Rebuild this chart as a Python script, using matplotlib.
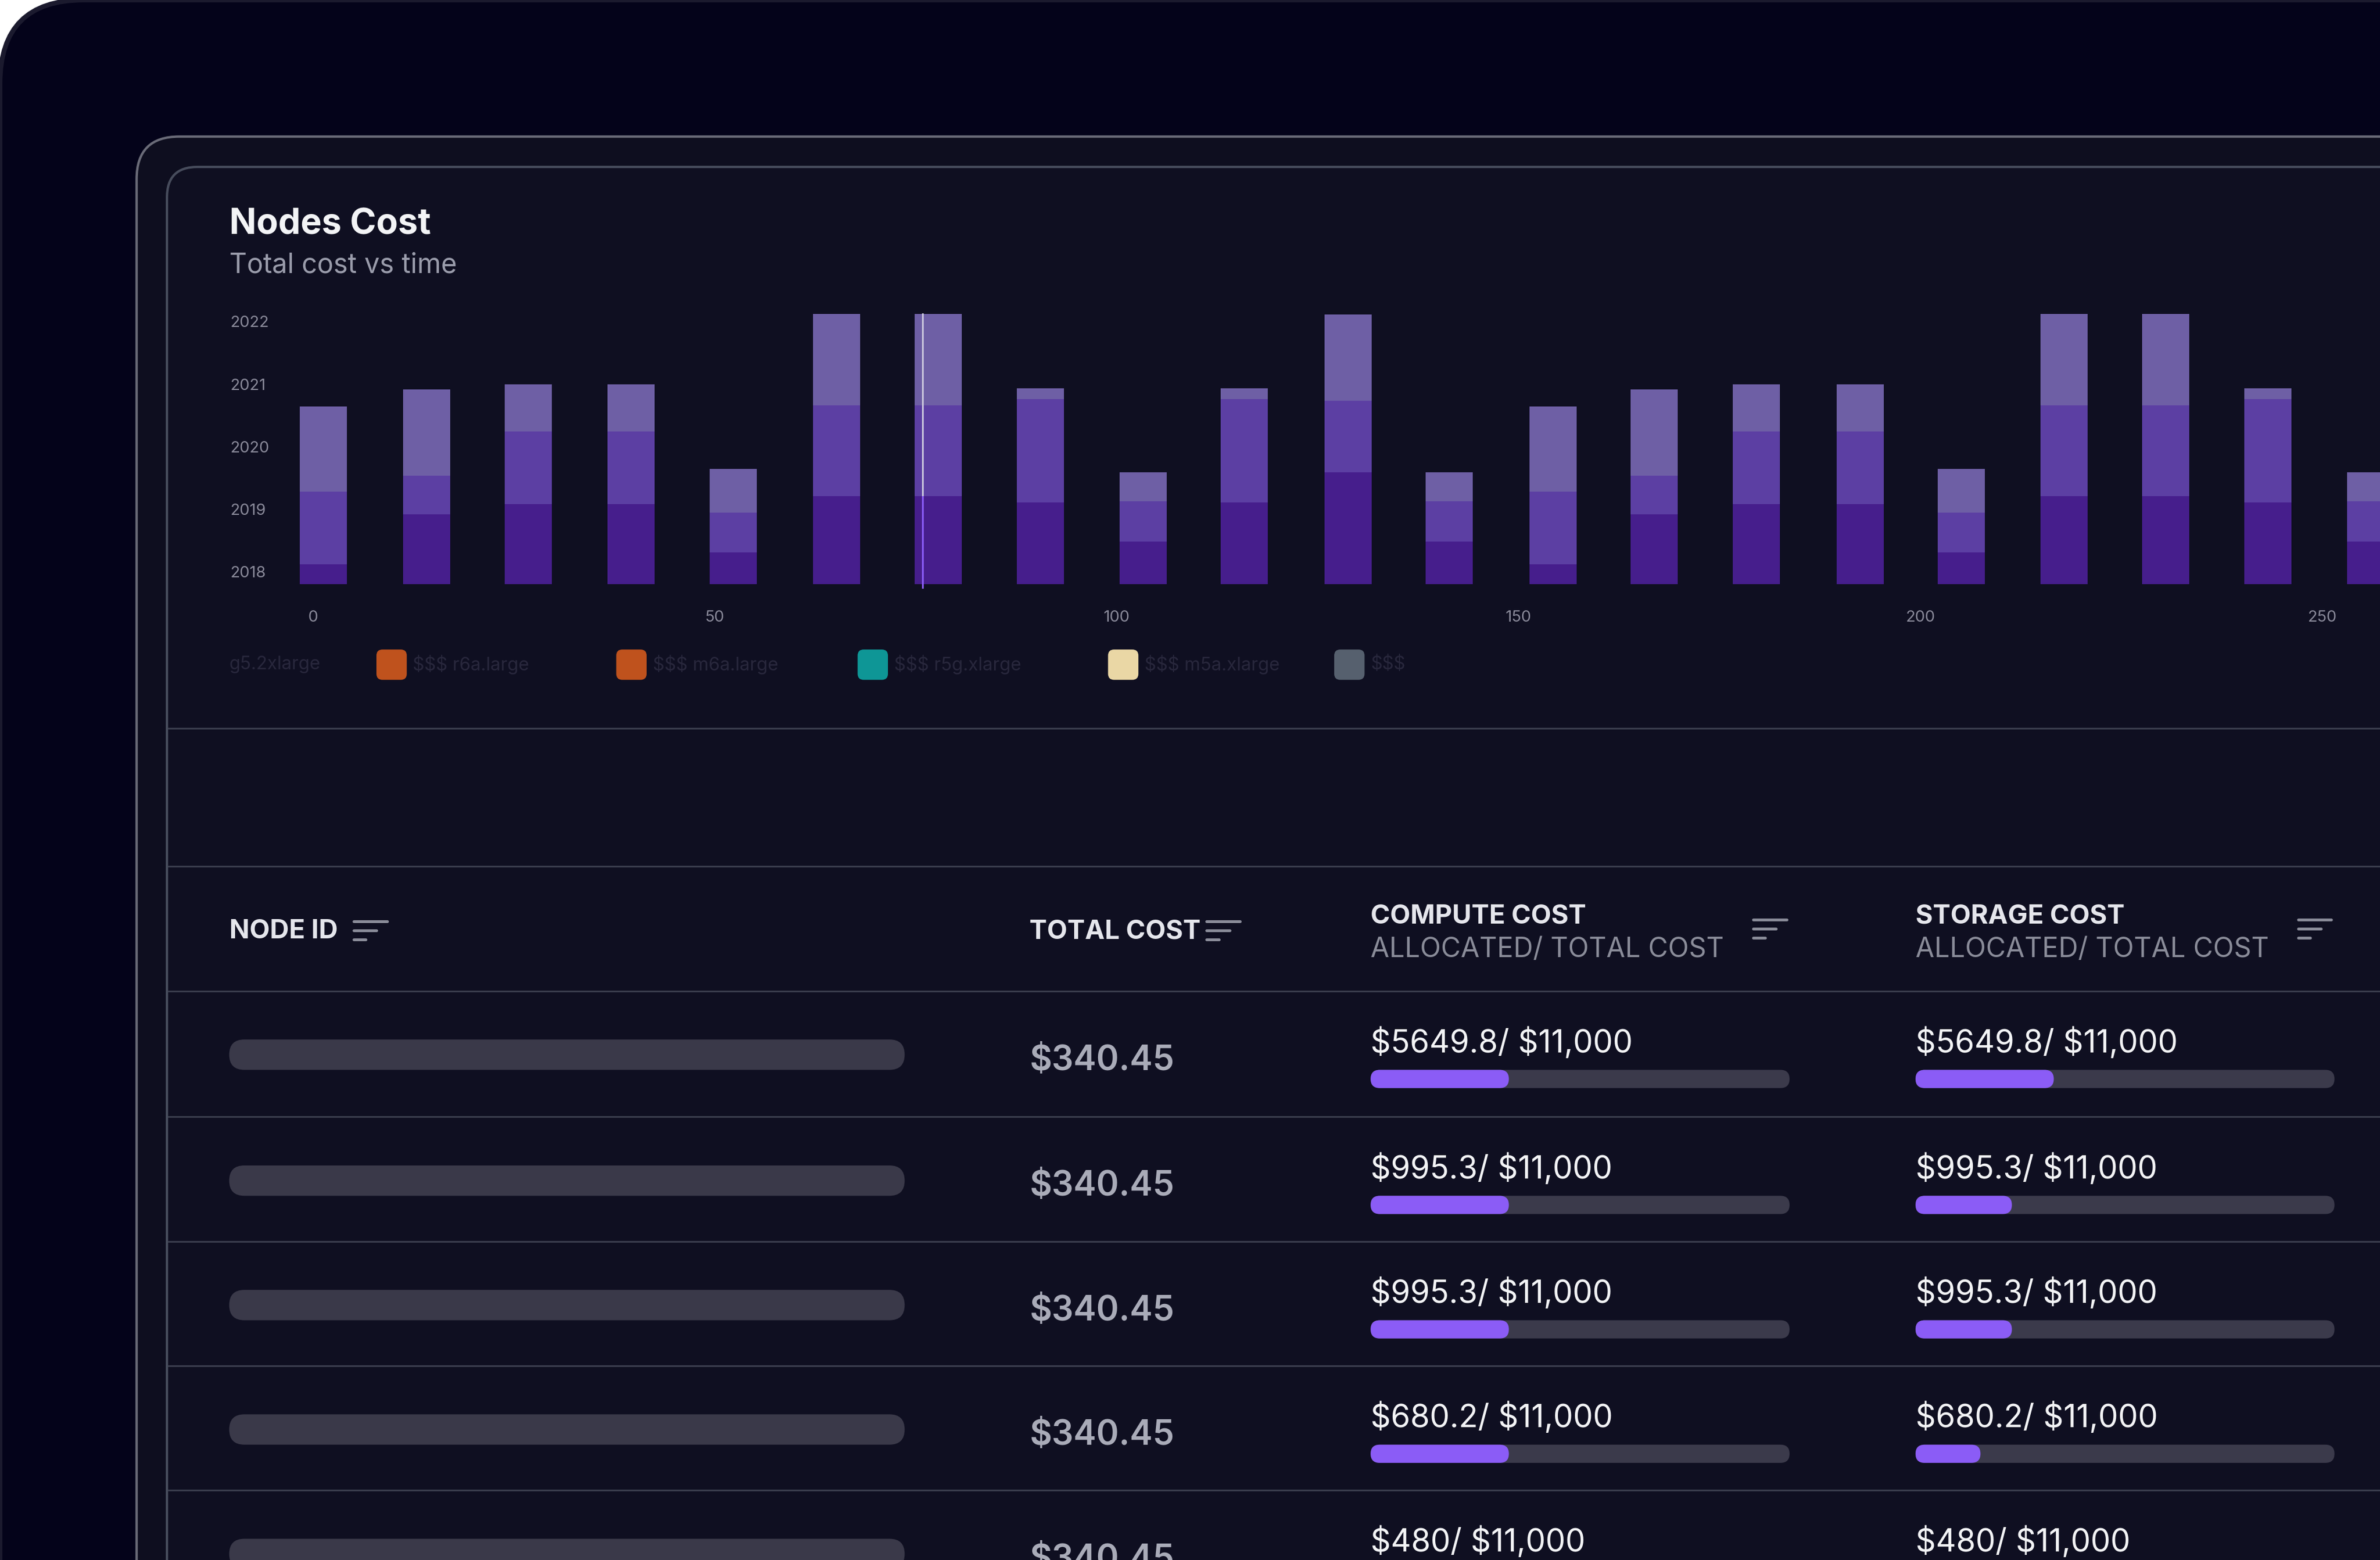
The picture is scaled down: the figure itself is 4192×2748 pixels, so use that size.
import matplotlib
matplotlib.use("Agg")
import matplotlib.pyplot as plt
from matplotlib.patches import FancyBboxPatch
import numpy as np

plt.rcParams['font.family'] = ['Inter', 'DejaVu Sans']
plt.rcParams['text.parse_math'] = False

# Chart data (bar heights in "year" units above the 2018 baseline)
bar_x = [1.3, 14.2, 26.8, 39.6, 52.3, 65.2, 77.8, 90.5, 103.3, 115.9, 128.8,
         141.4, 154.3, 166.9, 179.6, 192.5, 205.1, 217.9, 230.5, 243.2, 256.0]
seg_low = [0.32, 1.12, 1.28, 1.28, 0.51, 1.41, 1.41, 1.31, 0.68, 1.31, 1.79,
           0.68, 0.32, 1.12, 1.28, 1.28, 0.51, 1.41, 1.41, 1.31, 0.68]
seg_mid = [1.16, 0.61, 1.16, 1.16, 0.63, 1.45, 1.45, 1.65, 0.65, 1.65, 1.14,
           0.65, 1.16, 0.61, 1.16, 1.16, 0.63, 1.45, 1.45, 1.65, 0.65]
seg_top = [1.36, 1.38, 0.75, 0.75, 0.70, 1.46, 1.46, 0.17, 0.46, 0.17, 1.38,
           0.46, 1.36, 1.38, 0.75, 0.75, 0.70, 1.46, 1.46, 0.17, 0.46]
year_ticks = [2018, 2019, 2020, 2021, 2022]
x_ticks = [0, 50, 100, 150, 200, 250]
cursor_x = 75.9

legend_names = ["g5.2xlarge", "$$$ r6a.large", "$$$ m6a.large", "$$$ r5g.xlarge",
                "$$$ m5a.xlarge", "$$$"]
legend_colors = [None, "#bf521d", "#bf521d", "#0e9696", "#ead7a5", "#56606e"]
legend_pos = [151, 248, 406, 565, 730, 879]

# Table data
total_costs = ["$340.45"] * 5
compute_alloc = ["$5649.8", "$995.3", "$995.3", "$680.2", "$480"]
storage_alloc = ["$5649.8", "$995.3", "$995.3", "$680.2", "$480"]
total_budget = "$11,000"
compute_frac = [0.33, 0.33, 0.33, 0.33, 0.33]
storage_frac = [0.33, 0.23, 0.23, 0.155, 0.12]

W, H = 1568, 1028
fig = plt.figure(figsize=(41.92, 27.48), dpi=100, facecolor="white")
bg = fig.add_axes([0, 0, 1, 1])
bg.set_xlim(0, W)
bg.set_ylim(H, 0)
bg.axis("off")

def rbox(x, y, w, h, r, fc, ec="none", lw=0, z=1):
    bg.add_patch(FancyBboxPatch((x, y), w, h, boxstyle=f"round,pad=0,rounding_size={r}",
                                fc=fc, ec=ec, lw=lw, zorder=z))

# frames
rbox(0, 0, W + 80, H + 80, 55, "#04031a", "#1b1a2e", 6, z=1)
rbox(90, 90, W, H + 60, 28, "#0e0e1f", "#6a6b78", 3, z=2)
rbox(110, 110, W, H + 60, 20, "#0f0f21", "#474c5c", 3, z=3)

bg.text(151, 148, "Nodes Cost", color="#f3f4f6", fontsize=45, fontweight="bold",
        va="center", zorder=5)
bg.text(151, 175, "Total cost vs time", color="#9a9cab", fontsize=34.5, va="center", zorder=5)

# bar chart
x0d, x1d, y0d, y1d = 185, W, 200, 392
ax = fig.add_axes([x0d / W, 1 - y1d / H, (x1d - x0d) / W, (y1d - y0d) / H])
ax.set_facecolor("none")
ax.set_xlim((x0d - 206) / 5.296, (x1d - 206) / 5.296)
ax.set_ylim(2018 - (y1d - 385) / 41.25, 2018 + (385 - y0d) / 41.25)
ax.set_zorder(6)
for s in ax.spines.values():
    s.set_visible(False)
ax.set_xticks([])
ax.set_yticks([])
bw = 5.85
low = np.array(seg_low)
mid = np.array(seg_mid)
top = np.array(seg_top)
ax.bar(bar_x, low, bw, bottom=2018, color="#461e8c")
ax.bar(bar_x, mid, bw, bottom=2018 + low, color="#5c3fa3")
ax.bar(bar_x, top, bw, bottom=2018 + low + mid, color="#6e5fa5")
ax.plot([cursor_x, cursor_x], [2017.95, 2018 + 4.32], color="#c9c6dc", lw=2.2)
ax.plot([cursor_x, cursor_x], [2017.95, 2018 + 1.4], color="#8b5cf6", lw=2.2)
for yr in year_ticks:
    ax.text((152 - x0d) / (x1d - x0d), yr + 0.17, str(yr), transform=ax.get_yaxis_transform(),
            color="#8a8a9a", fontsize=20, va="center", ha="left", clip_on=False)
for xt in x_ticks:
    ax.text(xt, 2018 - 22 / 41.25, str(xt), color="#8a8a9a", fontsize=20,
            ha="center", va="center", clip_on=False)

# legend (blurred labels in the reference)
for name, col, lx in zip(legend_names, legend_colors, legend_pos):
    if col is not None:
        rbox(lx, 428, 20, 20, 4, col, z=5)
        lx += 24
    bg.text(lx, 438, name, color="#28273c", fontsize=23, va="center", zorder=5)

# separators
for yy in [480, 571, 653, 736, 818, 900, 982]:
    bg.plot([111, W], [yy, yy], color="#3a3d4d", lw=2.2, zorder=4)

def sort_icon(x, y):
    for dy, w in [(-6, 22), (0, 15), (6, 8)]:
        bg.plot([x, x + w], [y + dy, y + dy], color="#8a8c99", lw=3.6,
                solid_capstyle="round", zorder=5)

hc = "#e5e6ec"
bg.text(151, 614, "NODE ID", color=hc, fontsize=33.5, fontweight="bold", va="center", zorder=5)
sort_icon(233, 613)
bg.text(678, 614, "TOTAL COST", color=hc, fontsize=33.5, fontweight="bold", va="center", zorder=5)
sort_icon(795, 613)
for cx, name, ix in [(903, "COMPUTE COST", 1155), (1262, "STORAGE COST", 1514)]:
    bg.text(cx, 604, name, color=hc, fontsize=33.5, fontweight="bold", va="center", zorder=5)
    bg.text(cx, 626, "ALLOCATED/ TOTAL COST", color="#8a8c99", fontsize=34.5, va="center", zorder=5)
    sort_icon(ix, 612)

row_y = [695, 778, 860, 942, 1024]
for i, ry in enumerate(row_y):
    rbox(151, ry - 10, 445, 20, 10, "#3a3949", z=5)
    bg.text(678, ry + 4, total_costs[i], color="#a9abb8", fontsize=43.5, fontweight="semibold",
            va="center", zorder=5)
    for cx, val, fr in [(903, compute_alloc[i], compute_frac[i]),
                        (1262, storage_alloc[i], storage_frac[i])]:
        bg.text(cx, ry - 8, f"{val}/ {total_budget}", color="#f3f4f6", fontsize=40,
                va="center", zorder=5)
        rbox(cx, ry + 10, 276, 12, 6, "#3b3a4b", z=5)
        rbox(cx, ry + 10, 276 * fr, 12, 6, "#8b5cf6", z=6)

fig.savefig("out.png", dpi=100, facecolor="white")
